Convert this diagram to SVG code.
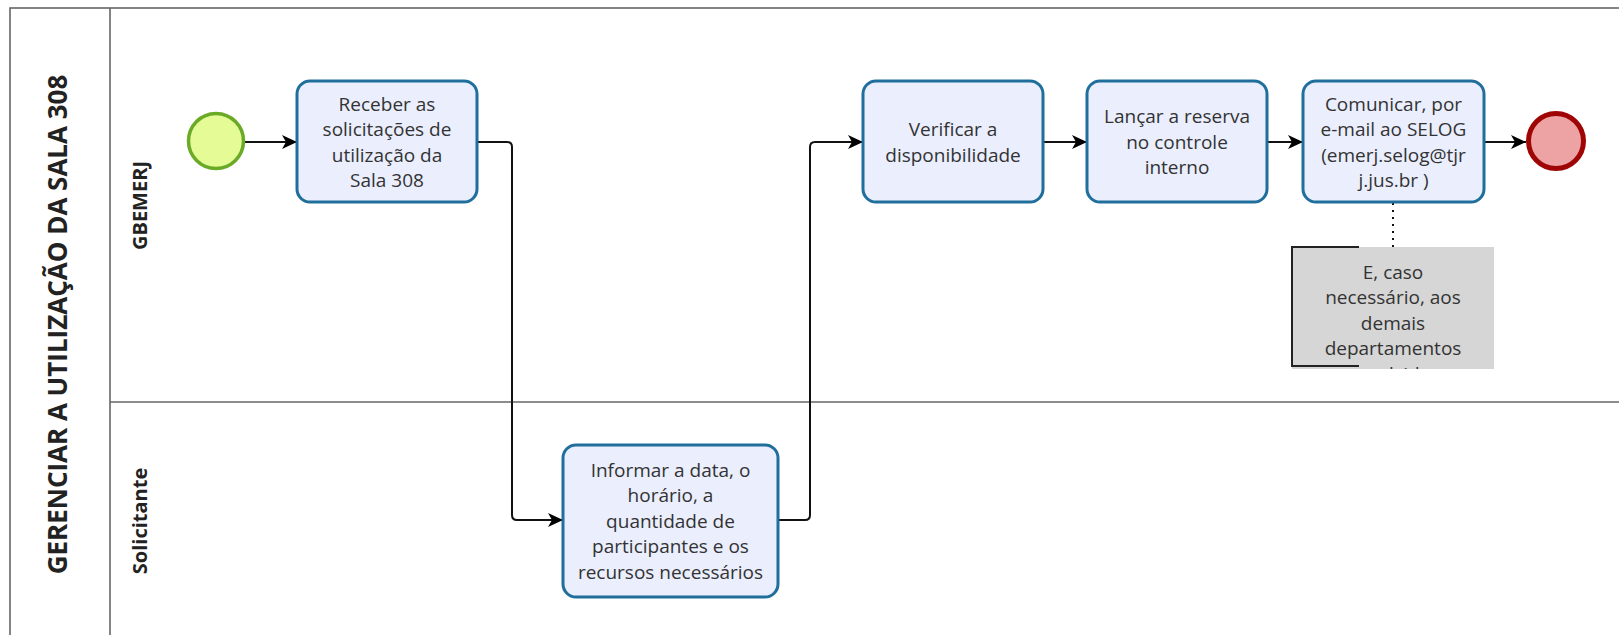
<svg xmlns="http://www.w3.org/2000/svg" width="1619" height="635" viewBox="0 0 1619 635">
<style>
.lane{fill:none;stroke:#666;stroke-width:1.6}
.task{fill:#eaeefd;stroke:#1f6e9c;stroke-width:3}
.t{font-family:"Open Sans","Noto Sans",sans-serif;font-size:19px;fill:#333;text-anchor:middle}
.lbl{font-family:"Open Sans","Noto Sans",sans-serif;font-weight:bold;fill:#222;text-anchor:middle}
.flow{fill:none;stroke:#111;stroke-width:2;marker-end:url(#arr)}
</style>
<defs>
<marker id="arr" markerUnits="userSpaceOnUse" markerWidth="16" markerHeight="16" refX="15" refY="8" orient="auto">
<path d="M0,1 L15,8 L0,15 L4,8 z" fill="#000"/>
</marker>
<clipPath id="annClip"><rect x="1292" y="247" width="202" height="122"/></clipPath>
</defs>
<rect width="1619" height="635" fill="#fff"/>
<g id="pool">
<rect class="lane" x="10" y="8" width="1640" height="640"/>
<line class="lane" x1="110" y1="8" x2="110" y2="648"/>
<line class="lane" x1="110" y1="402" x2="1650" y2="402"/>
<text class="lbl" font-size="26" transform="translate(67,324.5) rotate(-90)">GERENCIAR A UTILIZAÇÃO DA SALA 308</text>
</g>
<g id="lane-gbemerj">
<text class="lbl" font-size="20" transform="translate(147,205.5) rotate(-90)">GBEMERJ</text>
</g>
<g id="lane-solicitante">
<text class="lbl" font-size="20" transform="translate(147,521) rotate(-90)">Solicitante</text>
</g>
<g id="connectors">
<path class="flow" d="M244,142 H297"/>
<path class="flow" d="M477,142 H507 Q512,142 512,147 V515 Q512,520 517,520 H563"/>
<path class="flow" d="M778,520 H805 Q810,520 810,515 V147 Q810,142 815,142 H863"/>
<path class="flow" d="M1043,142 H1087"/>
<path class="flow" d="M1267,142 H1303"/>
<path class="flow" d="M1484,142 H1526"/>
<path d="M1393,203 V247" fill="none" stroke="#111" stroke-width="2" stroke-dasharray="2,5"/>
</g>
<g id="start">
<circle cx="216" cy="141" r="27.5" fill="#e5fc96" stroke="#6aaa27" stroke-width="3.5"/>
</g>
<g id="task-receber">
<rect class="task" x="297" y="81" width="180" height="121" rx="13"/>
<text class="t"><tspan x="387" y="110.5">Receber as</tspan><tspan x="387" y="136">solicitações de</tspan><tspan x="387" y="161.5">utilização da</tspan><tspan x="387" y="187">Sala 308</tspan></text>
</g>
<g id="task-informar">
<rect class="task" x="563" y="445" width="215" height="152" rx="13"/>
<text class="t"><tspan x="670.5" y="476.5">Informar a data, o</tspan><tspan x="670.5" y="502">horário, a</tspan><tspan x="670.5" y="527.5">quantidade de</tspan><tspan x="670.5" y="553">participantes e os</tspan><tspan x="670.5" y="578.5">recursos necessários</tspan></text>
</g>
<g id="task-verificar">
<rect class="task" x="863" y="81" width="180" height="121" rx="13"/>
<text class="t"><tspan x="953" y="136">Verificar a</tspan><tspan x="953" y="161.5">disponibilidade</tspan></text>
</g>
<g id="task-lancar">
<rect class="task" x="1087" y="81" width="180" height="121" rx="13"/>
<text class="t"><tspan x="1177" y="123">Lançar a reserva</tspan><tspan x="1177" y="148.5">no controle</tspan><tspan x="1177" y="174">interno</tspan></text>
</g>
<g id="task-comunicar">
<rect class="task" x="1303" y="81" width="181" height="121" rx="13"/>
<text class="t"><tspan x="1393.5" y="110.5">Comunicar, por</tspan><tspan x="1393.5" y="136">e-mail ao SELOG</tspan><tspan x="1393.5" y="161.5">(emerj.selog@tjr</tspan><tspan x="1393.5" y="187">j.jus.br )</tspan></text>
</g>
<g id="end">
<circle cx="1556" cy="141" r="27.5" fill="#eda3a3" stroke="#a00505" stroke-width="5"/>
</g>
<g id="annotation">
<rect x="1292" y="247" width="202" height="122" fill="#d6d6d6"/>
<path d="M1359,247 H1292 V366 H1359" fill="none" stroke="#222" stroke-width="2"/>
<text class="t" clip-path="url(#annClip)"><tspan x="1393" y="278.5">E, caso</tspan><tspan x="1393" y="304">necessário, aos</tspan><tspan x="1393" y="329.5">demais</tspan><tspan x="1393" y="355">departamentos</tspan><tspan x="1393" y="380.5">envolvidos</tspan></text>
</g>
</svg>
